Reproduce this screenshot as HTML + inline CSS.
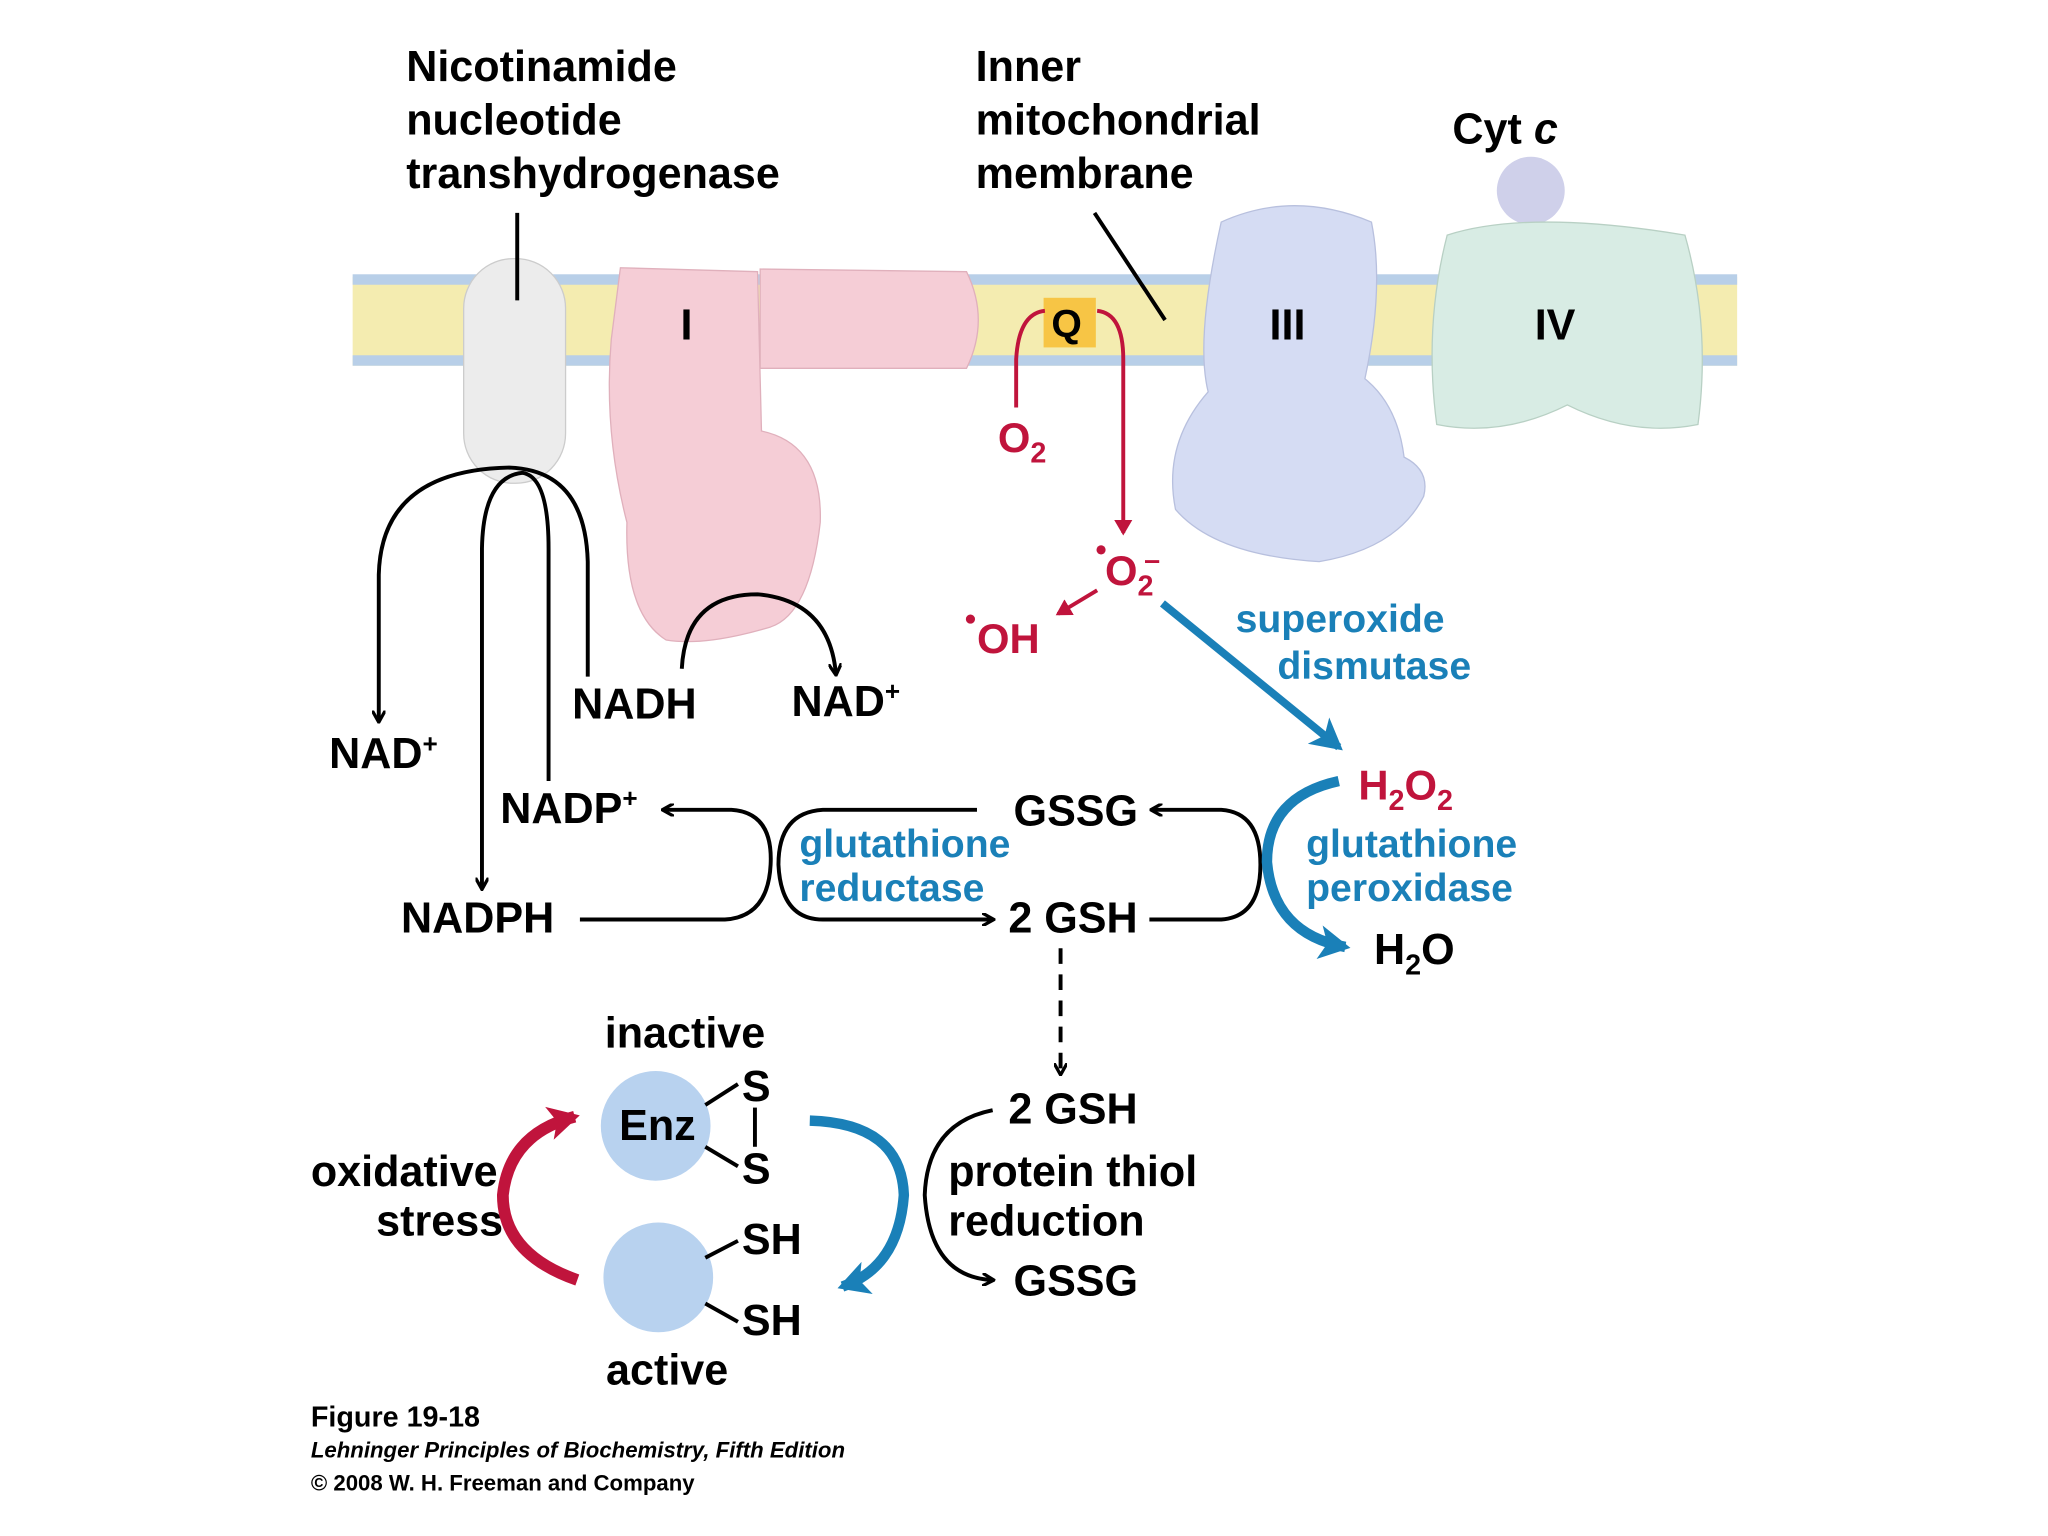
<!DOCTYPE html>
<html><head><meta charset="utf-8"><style>
html,body{margin:0;padding:0;background:#fff}
svg{display:block}
text{font-family:"Liberation Sans",sans-serif;font-weight:bold}
</style></head><body>
<svg width="2048" height="1536" viewBox="0 0 1568 1176" xmlns="http://www.w3.org/2000/svg">
<defs>
<marker id="ak" markerWidth="10" markerHeight="10" refX="8" refY="5" orient="auto" markerUnits="userSpaceOnUse"><path d="M0,0 L9,5 L0,10" fill="none" stroke="#000" stroke-width="2.5"/></marker>
<marker id="ar" markerWidth="14" markerHeight="14" refX="10" refY="7" orient="auto" markerUnits="userSpaceOnUse"><path d="M0,0 L12,7 L0,14 Z" fill="#c0143c"/></marker>
<marker id="ab" markerWidth="30" markerHeight="30" refX="20" refY="15" orient="auto" markerUnits="userSpaceOnUse"><path d="M0,2 L24,15 L0,28 L6,15 Z" fill="#1a80b8"/></marker>
<marker id="ar2" markerWidth="30" markerHeight="30" refX="20" refY="15" orient="auto" markerUnits="userSpaceOnUse"><path d="M0,2 L24,15 L0,28 L6,15 Z" fill="#c0143c"/></marker>
</defs>
<rect x="270" y="212" width="1060" height="68" fill="#f4ecb0"/>
<rect x="270" y="210" width="1060" height="8" fill="#b8cfe8"/>
<rect x="270" y="272" width="1060" height="8" fill="#b8cfe8"/>
<rect x="355" y="198" width="78" height="172" rx="38" fill="#ececec" stroke="#ccc"/>
<path d="M475,205 L580,208 L583,330 Q630,340 628,400 Q620,470 590,480 Q540,495 510,490 Q478,470 480,400 Q462,330 468,260 Z" fill="#f5cdd6" stroke="#e0b0bc"/>
<path d="M582,206 L740,208 Q758,245 740,282 L582,282 Z" fill="#f5cdd6" stroke="#e0b0bc"/>
<rect x="799" y="228" width="40" height="38" fill="#f7c545"/>
<path d="M935,170 Q990,145 1050,170 Q1060,220 1045,290 Q1070,310 1075,350 Q1095,360 1090,380 Q1070,420 1010,430 Q930,425 900,390 Q890,340 925,300 Q915,260 935,170 Z" fill="#d5dcf3" stroke="#b8c0de"/>
<circle cx="1172" cy="146" r="26" fill="#cfd0ea"/>
<path d="M1108,180 Q1170,160 1290,180 Q1310,250 1300,325 Q1250,335 1200,310 Q1150,335 1100,325 Q1090,250 1108,180 Z" fill="#d8ece4" stroke="#b8d0c4"/>
<circle cx="502" cy="862" r="42" fill="#b8d2ef"/>
<circle cx="504" cy="978" r="42" fill="#b8d2ef"/>
<g font-size="33" fill="#000">
<text x="311" y="62">Nicotinamide</text>
<text x="311" y="103">nucleotide</text>
<text x="311" y="144">transhydrogenase</text>
<text x="747" y="62">Inner</text>
<text x="747" y="103">mitochondrial</text>
<text x="747" y="144">membrane</text>
<text x="1112" y="110">Cyt <tspan font-style="italic">c</tspan></text>
<text x="521" y="260">I</text>
<text x="972" y="260">III</text>
<text x="1175" y="260">IV</text>
<text x="805" y="258" font-size="30">Q</text>
<text x="438" y="550">NADH</text>
<text x="606" y="548">NAD<tspan font-size="20" dy="-12">+</tspan></text>
<text x="252" y="588">NAD<tspan font-size="20" dy="-12">+</tspan></text>
<text x="383" y="630">NADP<tspan font-size="20" dy="-12">+</tspan></text>
<text x="307" y="714">NADPH</text>
<text x="776" y="632">GSSG</text>
<text x="772" y="714">2 GSH</text>
<text x="1052" y="738">H<tspan font-size="22" dy="8">2</tspan><tspan dy="-8">O</tspan></text>
<text x="463" y="802">inactive</text>
<text x="474" y="873">Enz</text>
<text x="568" y="843">S</text>
<text x="568" y="906">S</text>
<text x="568" y="960">SH</text>
<text x="568" y="1022">SH</text>
<text x="464" y="1060">active</text>
<text x="238" y="908">oxidative</text>
<text x="288" y="946">stress</text>
<text x="772" y="860">2 GSH</text>
<text x="726" y="908">protein thiol</text>
<text x="726" y="946">reduction</text>
<text x="776" y="992">GSSG</text>
</g>
<g font-size="32" fill="#c0143c">
<text x="764" y="346">O<tspan font-size="22" dy="8">2</tspan></text>
<text x="846" y="448">O<tspan font-size="22" dy="8">2</tspan></text>
<text x="876" y="436" font-size="22">–</text>
<circle cx="843" cy="421" r="3.5" fill="#c0143c"/>
<text x="748" y="500">OH</text>
<circle cx="743" cy="474" r="3.5" fill="#c0143c"/>
<text x="1040" y="612">H<tspan font-size="22" dy="8">2</tspan><tspan dy="-8">O</tspan><tspan font-size="22" dy="8">2</tspan></text>
</g>
<g font-size="30" fill="#1a80b8">
<text x="946" y="484">superoxide</text>
<text x="978" y="520">dismutase</text>
<text x="612" y="656">glutathione</text>
<text x="612" y="690">reductase</text>
<text x="1000" y="656">glutathione</text>
<text x="1000" y="690">peroxidase</text>
</g>
<g font-size="22" fill="#000">
<text x="238" y="1092">Figure 19-18</text>
<text x="238" y="1116" font-size="17" font-style="italic">Lehninger Principles of Biochemistry, Fifth Edition</text>
<text x="238" y="1141" font-size="17" font-weight="normal">© 2008 W. H. Freeman and Company</text>
</g>
<g fill="none" stroke="#000" stroke-width="3">
<line x1="396" y1="163" x2="396" y2="230"/>
<line x1="838" y1="163" x2="892" y2="245"/>
<path d="M450,518 L450,430 Q448,360 390,358 Q292,360 290,440 L290,552" marker-end="url(#ak)"/>
<path d="M420,598 L420,420 Q420,365 400,362 Q370,365 369,420 L369,680" marker-end="url(#ak)"/>
<path d="M522,512 Q525,455 580,455 Q635,460 640,516" marker-end="url(#ak)"/>
<path d="M444,704 L555,704 Q588,702 590,662 Q592,622 560,620 L508,620" marker-end="url(#ak)"/>
<path d="M748,620 L630,620 Q596,622 596,662 Q598,704 630,704 L760,704" marker-end="url(#ak)"/>
<path d="M880,704 L935,704 Q965,702 965,662 Q965,622 935,620 L882,620" marker-end="url(#ak)"/>
<path d="M812,726 L812,822" stroke-dasharray="12,8" marker-end="url(#ak)"/>
<path d="M760,850 Q710,860 708,915 Q712,978 760,980" marker-end="url(#ak)"/>
<line x1="540" y1="846" x2="565" y2="830"/>
<line x1="540" y1="878" x2="565" y2="893"/>
<line x1="578" y1="848" x2="578" y2="878"/>
<line x1="540" y1="963" x2="565" y2="950"/>
<line x1="540" y1="998" x2="565" y2="1012"/>
</g>
<g fill="none" stroke="#c0143c" stroke-width="3">
<path d="M778,312 L778,275 Q780,240 800,238"/>
<path d="M840,238 Q860,240 860,275 L860,408" marker-end="url(#ar)"/>
<path d="M840,452 L810,470" marker-end="url(#ar)"/>
<path d="M442,980 Q385,960 385,915 Q390,868 440,855" stroke-width="9" marker-end="url(#ar2)"/>
</g>
<g fill="none" stroke="#1a80b8" stroke-width="6">
<path d="M890,462 L1025,572" marker-end="url(#ab)"/>
<path d="M1025,598 Q970,610 970,660 Q975,715 1030,725" stroke-width="8" marker-end="url(#ab)"/>
<path d="M620,858 Q690,860 692,915 Q688,970 645,985" stroke-width="8" marker-end="url(#ab)"/>
</g>
</svg>
</body></html>
